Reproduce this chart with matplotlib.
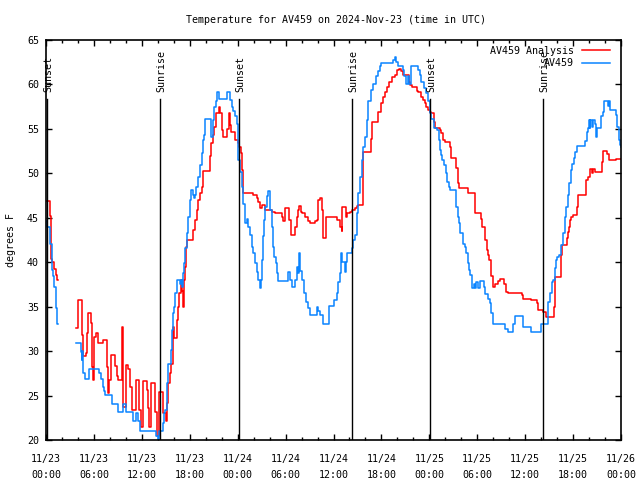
import numpy as np
import matplotlib
matplotlib.use('Agg')
import matplotlib.pyplot as plt

nan = np.nan

# hours since 2024-11-23 00:00 UTC, temperature in degrees F
analysis_hours = [
    0.0, 0.4, 0.5, 0.62, 0.8, 1.0, 1.2, 1.4, 1.45, 1.45,
    3.76, 4.04, 4.47, 4.59, 4.97, 5.09, 5.3, 5.6, 5.72, 5.84, 6.0, 6.22, 6.55,
    7.17, 7.67, 7.8, 7.92, 8.1, 8.64, 8.85, 9.05, 9.47, 9.55, 9.67, 10.0, 10.3,
    10.5, 10.72, 11.22, 11.68, 11.85, 12.1, 12.6, 12.8, 12.93, 13.14, 13.64,
    13.85, 14.18, 14.64, 15.0, 15.09, 15.3, 15.5, 15.64, 15.85, 16.02, 16.35,
    16.56, 16.68, 16.86, 17.02, 17.18, 17.3, 17.4, 17.52, 17.68, 18.43, 18.65,
    18.86, 19.06, 19.27, 19.49, 19.69, 20.53, 20.65, 20.86, 21.03, 21.28, 21.69,
    21.78, 21.99, 22.19, 22.62, 22.87, 22.94, 23.03, 23.15, 23.65, 23.99, 24.16,
    24.4, 24.57, 24.69, 25.95, 26.37, 26.57, 26.78, 27.03, 27.4, 28.24, 28.66,
    29.5, 29.7, 29.91, 30.45, 30.66, 31.16, 31.38, 31.58, 31.7, 31.88, 32.04,
    32.42, 32.75, 33.04, 33.67, 33.88, 34.08, 34.29, 34.58, 34.71, 35.04, 35.83,
    36.38, 36.8, 37.01, 37.08, 37.51, 37.67, 38.05, 38.34, 38.67, 38.89, 39.09,
    39.67, 39.71, 40.55, 40.68, 40.76, 41.59, 42.01, 42.21, 42.43, 42.76, 42.97,
    43.27, 43.68, 43.89, 44.18, 44.43, 44.72, 45.43, 45.56, 45.77, 46.4, 46.6,
    46.93, 47.22, 47.43, 47.64, 47.85, 48.06, 48.27, 48.6, 48.69, 49.31, 49.52,
    49.72, 49.94, 50.56, 50.69, 51.28, 51.4, 51.6, 51.73, 52.78, 53.69, 53.78,
    54.53, 54.61, 55.03, 55.16, 55.36, 55.45, 55.78, 55.91, 56.2, 56.61, 56.9,
    57.4, 57.55, 57.8, 59.55, 59.75, 60.71, 61.42, 61.62, 62.24, 62.67, 63.61,
    63.7, 63.79, 64.45, 64.54, 64.61, 65.29, 65.36, 65.49, 65.57, 65.79, 65.99,
    66.54, 66.62, 67.58, 67.67, 67.87, 68.09, 68.34, 68.46, 68.71, 69.67, 69.75,
    70.3, 70.46, 71.42, 72.0,
]
analysis_temps = [
    46.9, 46.9, 45.2, 40.4, 40.0, 39.2, 38.6, 38.0, 38.0, nan,
    32.6, 35.8, 31.8, 29.4, 29.8, 32.0, 34.3, 33.2, 28.2, 26.75, 31.6, 32.0, 30.9,
    31.25, 28.2, 25.3, 26.75, 29.6, 28.3, 27.2, 26.75, 28.6, 32.75, 23.75, 28.4, 28.0,
    26.0, 23.4, 26.75, 23.4, 21.5, 26.6, 25.6, 23.6, 21.5, 26.45, 23.2,
    20.4, 25.4, 23.0, 22.1, 24.2, 26.4, 27.5, 28.6, 32.75, 31.5, 33.5,
    35.0, 36.5, 38.0, 36.8, 35.0, 38.0, 39.5, 41.75, 42.5, 43.6, 44.75,
    45.9, 47.0, 47.8, 48.5, 50.3, 51.9, 53.4, 54.3, 55.25, 56.75, 57.5,
    56.75, 54.9, 54.1, 55.0, 56.0, 56.8, 55.4, 54.6, 53.75, 53.4, 53.0,
    52.3, 50.4, 47.8, 47.6, 47.2, 46.8, 46.1, 46.4, 45.9, 45.7, 45.5,
    45.1, 44.6, 46.1, 44.75, 43.1, 44.0, 45.1, 45.9, 46.3, 45.7, 45.5,
    45.05, 44.6, 44.45, 44.6, 44.8, 47.0, 47.2, 45.9, 42.7, 45.1, 45.05,
    44.75, 44.0, 43.55, 46.25, 45.1, 45.5, 45.6, 45.9, 46.1, 46.35, 46.4,
    49.25, 52.4, 52.4, 53.9, 55.8, 56.9, 57.9, 58.6, 59.1, 59.75, 60.3,
    60.8, 61.05, 61.6, 61.7, 61.5, 61.05, 60.3, 59.9, 59.75, 59.3, 59.1,
    58.6, 58.25, 57.9, 57.5, 57.1, 56.9, 56.8, 55.8, 55.1, 54.9, 54.5,
    53.75, 53.5, 53.0, 51.7, 51.1, 50.6, 48.9, 48.4, 47.75, 46.6, 45.5,
    44.9, 44.0, 42.5, 41.4, 40.8, 40.25, 38.4, 37.25, 37.6, 37.9, 38.1,
    37.6, 36.7, 36.5, 36.3, 35.9, 35.7, 35.4, 34.6, 34.4, 33.8, 35.0,
    37.25, 38.3, 39.1, 40.8, 41.9, 42.7, 43.4, 44.0, 44.75, 45.1, 45.3,
    46.25, 47.6, 48.9, 49.25, 49.6, 50.45, 50.0, 50.45, 50.2, 51.3, 52.5,
    52.2, 51.5, 51.6, 51.6,
]

obs_hours = [
    0.0, 0.15, 0.5, 0.7, 0.75, 0.92, 1.0, 1.2, 1.3, 1.42, 1.5, 1.5,
    3.76, 4.34, 4.47, 4.54, 4.67, 4.88, 5.38, 6.67, 6.88, 7.1, 7.3, 7.38,
    8.22, 8.97, 9.64, 10.01, 10.85, 11.26, 11.55, 11.76, 13.77, 14.02, 14.2,
    14.68, 14.8, 14.89, 15.1, 15.18, 15.31, 15.64, 15.73, 15.86, 16.02, 16.15,
    16.36, 16.77, 16.9, 16.98, 17.18, 17.31, 17.4, 17.61, 17.81, 18.02, 18.15,
    18.36, 18.52, 18.65, 18.77, 19.06, 19.27, 19.49, 19.61, 19.77, 19.9, 20.61,
    20.86, 21.03, 21.28, 21.36, 21.69, 22.62, 23.03, 23.24, 23.44, 23.65, 23.86,
    23.99, 24.07, 24.28, 24.49, 24.69, 24.91, 25.12, 25.32, 25.53, 25.82, 25.94,
    26.16, 26.37, 26.57, 26.78, 26.95, 27.07, 27.2, 27.32, 27.41, 27.62, 27.82,
    28.04, 28.25, 28.45, 28.57, 28.75, 28.95, 29.08, 30.25, 30.54, 30.83, 31.16,
    31.38, 31.54, 31.67, 31.79, 32.0, 32.33, 32.5, 32.83, 33.04, 33.88, 34.08,
    34.29, 34.71, 35.42, 36.08, 36.38, 36.58, 36.8, 36.92, 37.08, 37.42, 37.6,
    37.75, 38.34, 38.46, 38.67, 38.89, 39.09, 39.3, 39.51, 39.71, 39.92, 40.14,
    40.26, 40.68, 40.96, 41.26, 41.59, 41.8, 42.01, 43.47, 43.68, 43.81, 44.09,
    44.72, 44.84, 45.02, 45.34, 45.49, 45.68, 46.52, 46.8, 47.01, 47.34, 47.64,
    47.84, 48.06, 48.18, 48.6, 49.02, 49.19, 49.31, 49.44, 49.6, 49.85, 50.03,
    50.23, 50.44, 50.65, 51.31, 51.4, 51.53, 51.73, 51.9, 52.23, 52.44, 52.57,
    52.78, 52.94, 53.07, 53.28, 53.4, 53.57, 53.76, 53.9, 54.13, 54.32, 54.86,
    55.03, 55.36, 55.57, 55.78, 55.91, 57.45, 57.79, 58.42, 58.71, 59.67, 59.74,
    60.79, 61.95, 62.8, 62.87, 63.09, 63.3, 63.5, 63.71, 63.83, 64.0, 64.21,
    64.46, 64.54, 64.74, 64.96, 65.17, 65.37, 65.5, 65.71, 65.87, 66.12, 66.3,
    66.55, 67.47, 67.68, 67.88, 68.0, 68.09, 68.18, 68.34, 68.46, 68.71, 68.83,
    68.96, 69.55, 69.75, 69.88, 70.34, 70.46, 70.58, 71.33, 71.55, 71.71, 71.84,
    72.0,
]
obs_temps = [
    44.6, 44.0, 42.0, 40.6, 39.1, 38.4, 37.25, 36.1, 34.8, 33.05, 33.05, nan,
    30.95, 29.9, 29.0, 30.0, 27.5, 26.9, 27.95, 27.5, 26.9, 26.0, 25.5, 25.1,
    24.05, 23.1, 24.05, 23.1, 22.1, 23.0, 22.1, 21.05, 20.4, 20.1, 21.05,
    21.9, 23.0, 23.4, 24.1, 26.4, 28.6, 30.1, 32.4, 34.25, 35.0, 36.5,
    38.0, 37.5, 38.0, 37.2, 38.75, 39.9, 41.6, 43.25, 45.1, 47.0, 48.1,
    47.6, 47.2, 47.6, 48.5, 49.6, 50.9, 52.25, 53.75, 54.3, 56.1, 54.1,
    56.0, 57.5, 58.1, 59.1, 58.4, 59.1, 58.25, 57.5, 57.0, 56.4, 55.6,
    53.0, 51.5, 50.2, 48.5, 46.6, 44.4, 44.9, 44.0, 43.1, 41.75, 41.0,
    39.9, 38.9, 38.0, 37.05, 38.0, 40.25, 42.9, 44.75, 46.25, 47.4, 48.05,
    45.9, 44.0, 41.75, 40.6, 39.9, 38.75, 37.9, 38.9, 38.0, 37.25, 38.0,
    39.5, 38.8, 41.0, 39.0, 38.0, 36.5, 35.55, 34.8, 34.05, 35.0, 34.5,
    34.05, 33.05, 35.1, 35.75, 36.5, 37.8, 38.75, 41.0, 40.05, 38.9, 40.0,
    41.0, 41.6, 42.5, 43.1, 45.5, 47.75, 49.6, 51.5, 53.0, 54.1, 56.0,
    58.1, 59.4, 60.1, 60.9, 61.55, 62.1, 62.45, 62.75, 63.1, 62.55, 62.1,
    61.6, 60.9, 60.1, 61.0, 60.1, 62.1, 61.6, 61.05, 60.3, 59.6, 59.0,
    58.1, 56.75, 56.1, 55.1, 54.9, 53.75, 52.6, 52.05, 51.5, 50.9, 50.0,
    49.05, 48.5, 48.1, 47.4, 46.25, 45.1, 44.4, 43.25, 42.1, 41.75, 41.0,
    39.9, 39.1, 38.6, 38.0, 37.05, 37.6, 37.05, 37.8, 37.1, 37.9, 37.25,
    36.4, 35.9, 35.4, 34.25, 33.05, 32.45, 32.1, 33.1, 33.9, 33.1, 32.75,
    32.1, 33.05, 34.4, 35.55, 36.5, 37.8, 38.0, 39.3, 40.25, 40.6, 40.8,
    41.0, 41.9, 43.25, 45.1, 46.25, 47.6, 48.9, 50.4, 51.1, 51.7, 52.4,
    53.1, 53.6, 54.7, 55.1, 56.0, 55.1, 56.0, 55.2, 56.0, 55.5, 54.1,
    55.1, 56.4, 56.9, 58.1, 57.6, 58.1, 57.1, 56.6, 55.25, 53.75, 53.2,
    53.0,
]

sun_hours = [0.13, 14.3, 24.17, 38.3, 48.1, 62.2]
sun_labels = ['Sunset', 'Sunrise', 'Sunset', 'Sunrise', 'Sunset', 'Sunrise']

tick_hours = list(range(0, 73, 6))
tick_labels = ['11/23\n00:00', '11/23\n06:00', '11/23\n12:00', '11/23\n18:00',
               '11/24\n00:00', '11/24\n06:00', '11/24\n12:00', '11/24\n18:00',
               '11/25\n00:00', '11/25\n06:00', '11/25\n12:00', '11/25\n18:00',
               '11/26\n00:00']

plt.rcParams['font.family'] = 'DejaVu Sans Mono'
plt.rcParams['font.size'] = 7.2

fig = plt.figure(figsize=(6.4, 4.8), dpi=100)
ax = fig.add_axes([46 / 640, 1 - 440 / 480, 575 / 640, 400 / 480])

ax.plot(analysis_hours, analysis_temps, color='#ff0000', lw=1.1,
        drawstyle='steps-post', label='AV459 Analysis')
ax.plot(obs_hours, obs_temps, color='#0a84ff', lw=1.1,
        drawstyle='steps-post', label='AV459')

# sunrise / sunset markers
for h, lab in zip(sun_hours, sun_labels):
    ax.plot([h, h], [20, 58.4], color='black', lw=1.0)
    ax.text(h + 0.2, 59.1, lab, rotation=90, ha='center', va='bottom')

ax.set_xlim(0, 72)
ax.set_ylim(20, 65)
ax.set_xticks(tick_hours)
ax.set_xticklabels(tick_labels, linespacing=1.75)
ax.set_xticks(range(0, 73, 2), minor=True)
ax.set_yticks(range(20, 66, 5))

ax.tick_params(which='both', direction='in', top=True, right=True, width=1.0)
ax.tick_params(which='major', length=4)
ax.tick_params(which='minor', length=2.5)
ax.tick_params(axis='y', pad=5)
ax.tick_params(axis='x', pad=10)
for s in ax.spines.values():
    s.set_linewidth(1.2)

ax.set_ylabel('degrees F', labelpad=8)
fig.text(336 / 640, 1 - 20 / 480, 'Temperature for AV459 on 2024-Nov-23 (time in UTC)',
         ha='center', va='center')

ax.legend(loc='upper right', bbox_to_anchor=(609.5 / 640, 1 - 45.5 / 480),
          bbox_transform=fig.transFigure, frameon=False, markerfirst=False,
          handlelength=2.8, handletextpad=0.75, labelspacing=0.3,
          borderaxespad=0, borderpad=0)

fig.savefig('out.png', dpi=100)
